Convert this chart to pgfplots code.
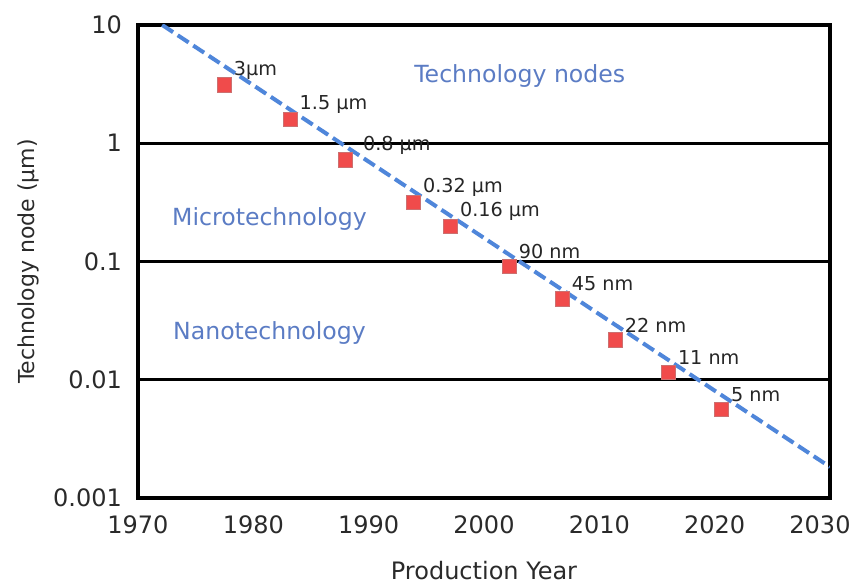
\documentclass[border=0pt]{standalone}
\usepackage{fontspec}
\setmainfont{DejaVu Sans}
\usepackage{pgfplots}
\pgfplotsset{compat=1.18}
\definecolor{nodeblue}{HTML}{4F86DA}
\definecolor{regionblue}{HTML}{5B7CC4}
\definecolor{markred}{HTML}{F04B4B}
\definecolor{markedge}{HTML}{CC7070}
\definecolor{ticktext}{HTML}{2A2A2A}

\begin{document}
\begin{tikzpicture}
\begin{axis}[
  scale only axis,
  width=346pt, height=236.5pt,
  xmin=1970, xmax=2030,
  ymode=log, ymin=0.001, ymax=10,
  xtick={1970,1980,1990,2000,2010,2020},
  xticklabels={1970,1980,1990,2000,2010,2020},
  extra x ticks={2030},
  extra x tick labels={2030},
  extra x tick style={xticklabel style={xshift=-5pt}},
  ytick={0.001,0.01,0.1,1,10},
  yticklabels={0.001,0.01,0.1,1,10},
  major tick length=0pt, minor tick length=0pt,
  yminorticks=false,
  ymajorgrids,
  major grid style={black, line width=1.6pt},
  axis line style={black, line width=2.2pt},
  tick label style={font=\fontsize{12}{14}\selectfont, text=ticktext},
  xticklabel style={yshift=-5.5pt},
  yticklabel style={xshift=-4.5pt},
  xlabel={Production Year},
  ylabel={Technology node (µm)},
  every axis x label/.style={at={(rel axis cs:0.5,0)}, anchor=base,
    yshift=-41pt, font=\fontsize{12}{14}\selectfont, text=ticktext},
  every axis y label/.style={at={(rel axis cs:0,0.5)}, xshift=-55pt,
    rotate=90, anchor=center, font=\fontsize{11}{14}\selectfont, text=ticktext},
  clip=true,
]
% trend line
\addplot[nodeblue, line width=2pt, dash pattern=on 6.5pt off 2.8pt] coordinates {
  (1972.1,10) (2030,0.00183)
};
% technology nodes
\addplot[only marks, mark=square*, mark size=3.6pt,
  mark options={fill=markred, draw=markedge, line width=0.5pt},
  point meta=explicit symbolic,
  nodes near coords,
  every node near coord/.style={anchor=west, inner sep=0pt,
    xshift=4.5pt, yshift=7.5pt, font=\fontsize{9.6}{11}\selectfont, text=black!85},
] coordinates {
  (1977.5,3.1)    [3µm]
  (1983.2,1.58)   [1.5 µm]
  (1988.0,0.72)   [\hspace{4pt}0.8 µm]
  (1993.9,0.316)  [0.32 µm]
  (1997.1,0.197)  [0.16 µm]
  (2002.2,0.0906) [90 nm]
  (2006.8,0.0483) [45 nm]
  (2011.4,0.0216) [22 nm]
  (2016.0,0.0115) [11 nm]
  (2020.6,0.00557)[5 nm]
};
\node[text=regionblue, font=\fontsize{11.8}{14}\selectfont] at (axis cs:2003.1,3.67) {Technology nodes};
\node[text=regionblue, font=\fontsize{11.8}{14}\selectfont] at (axis cs:1981.4,0.228) {Microtechnology};
\node[text=regionblue, font=\fontsize{11.8}{14}\selectfont] at (axis cs:1981.4,0.0247) {Nanotechnology};
\end{axis}
\pgfresetboundingbox
\useasboundingbox ([xshift=-69pt,yshift=-42.5pt]current axis.south west)
  rectangle ([xshift=10.5pt,yshift=12.5pt]current axis.north east);
\end{tikzpicture}
\end{document}
